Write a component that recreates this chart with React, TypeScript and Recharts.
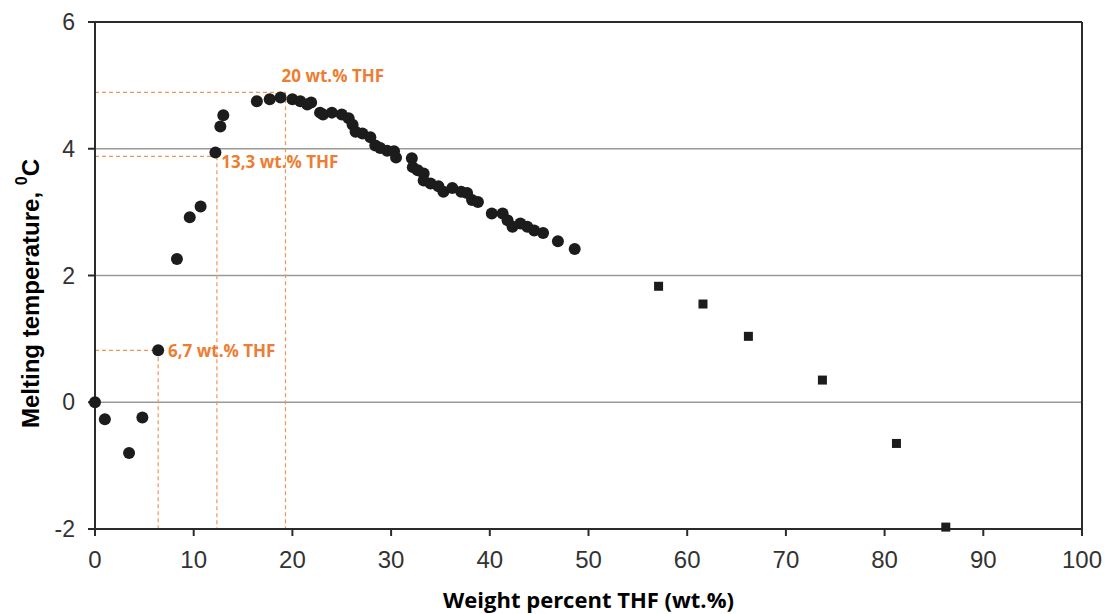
import React from 'react';
import {
  ScatterChart,
  Scatter,
  XAxis,
  YAxis,
  CartesianGrid,
  ReferenceLine,
} from 'recharts';

/* ---------- DATA ---------- */
// circles: measured melting points, low THF range
const circleX = [
  0, 1.0, 3.45, 4.8, 6.4, 8.3, 9.6, 10.7, 12.2, 12.7, 13.0,
  16.4, 17.7, 18.8, 20.0, 20.8, 21.5, 21.9, 22.8, 23.1, 24.0, 25.0,
  25.7, 26.1, 26.4, 27.1, 27.9, 28.4, 28.9, 29.6, 30.3, 30.5, 32.1,
  32.2, 32.7, 33.3, 33.3, 34.0, 34.8, 35.3, 36.2, 37.1, 37.7, 38.2,
  38.8, 40.2, 41.3, 41.8, 42.3, 43.1, 43.8, 44.5, 45.4, 46.9, 48.6,
];
const circleY = [
  0, -0.27, -0.8, -0.24, 0.82, 2.26, 2.92, 3.09, 3.94, 4.35, 4.53,
  4.75, 4.78, 4.81, 4.78, 4.75, 4.7, 4.73, 4.57, 4.54, 4.57, 4.54,
  4.48, 4.38, 4.27, 4.24, 4.18, 4.05, 4.01, 3.97, 3.96, 3.86, 3.85,
  3.71, 3.66, 3.61, 3.5, 3.45, 3.41, 3.32, 3.38, 3.32, 3.3, 3.19,
  3.16, 2.98, 2.98, 2.87, 2.77, 2.82, 2.77, 2.71, 2.67, 2.54, 2.42,
];

// squares: high THF range
const squareX = [57.1, 61.6, 66.2, 73.7, 81.2, 86.2];
const squareY = [1.83, 1.55, 1.04, 0.35, -0.65, -1.97];

// annotations (orange)
const markX = [19.3, 12.35, 6.4];
const markY = [4.89, 3.88, 0.82];
const noteText = ['20 wt.% THF', '13,3 wt.% THF', '6,7 wt.% THF'];
const noteX = [18.9, 12.8, 7.4];
const noteY = [5.16, 3.8, 0.82];

const xTicks = [0, 10, 20, 30, 40, 50, 60, 70, 80, 90, 100];
const yTicks = [-2, 0, 2, 4, 6];
const gridY = [0, 2, 4];

const circles = circleX.map((x, i) => ({ x, y: circleY[i] }));
const squares = squareX.map((x, i) => ({ x, y: squareY[i] }));
const notes = noteX.map((x, i) => ({ x, y: noteY[i], text: noteText[i] }));

const ORANGE = '#ED7D31';
const DASH = '#EE9658';
const AXIS = '#2b2b2b';

const YTitle = (props: any) => {
  const vb = props.viewBox || { x: 0, y: 22, width: 95, height: 507 };
  const cx = vb.x + 30;
  const cy = vb.y + vb.height / 2 + 18;
  return (
    <text
      x={cx}
      y={cy}
      transform={`rotate(-90, ${cx}, ${cy})`}
      textAnchor="middle"
      dominantBaseline="central"
      fontFamily="'Liberation Sans', Arial, sans-serif"
      fontWeight={700}
      fontSize={24}
      fill="#000"
    >
      Melting temperature,{' '}
      <tspan dy={-9} fontSize={16}>
        0
      </tspan>
      <tspan dy={9}>C</tspan>
    </text>
  );
};

const XTitle = (props: any) => {
  const vb = props.viewBox || { x: 95, y: 529, width: 987, height: 85 };
  return (
    <text
      x={vb.x + vb.width / 2}
      y={599}
      textAnchor="middle"
      dominantBaseline="central"
      fontFamily="'Open Sans', sans-serif"
      fontWeight={700}
      fontSize={22}
      fill="#000"
    >
      Weight percent THF (wt.%)
    </text>
  );
};

export default function App() {
  return (
    <div style={{ position: 'absolute', left: 0, top: 0, background: '#fff' }}>
      <ScatterChart
        width={1108}
        height={614}
        margin={{ top: 22, right: 26, bottom: 0, left: 0 }}
      >
        <CartesianGrid
          horizontal
          vertical={false}
          horizontalValues={gridY}
          stroke="#9a9a9a"
          strokeWidth={1.5}
        />
        <XAxis
          type="number"
          dataKey="x"
          domain={[0, 100]}
          ticks={xTicks}
          interval={0}
          height={85}
          stroke={AXIS}
          strokeWidth={2}
          tickSize={7}
          tickMargin={15}
          tick={{ fontSize: 24, fill: '#333', fontFamily: "'Liberation Sans', Arial, sans-serif" }}
          label={{ content: <XTitle /> }}
        />
        <YAxis
          type="number"
          dataKey="y"
          domain={[-2, 6]}
          ticks={yTicks}
          interval={0}
          width={95}
          stroke={AXIS}
          strokeWidth={2}
          tickSize={7}
          tickMargin={13}
          tick={{ fontSize: 23, fill: '#333', fontFamily: "'Liberation Sans', Arial, sans-serif" }}
          label={{ content: <YTitle /> }}
        />
        <ReferenceLine y={6} stroke={AXIS} strokeWidth={2} />
        <ReferenceLine x={100} stroke={AXIS} strokeWidth={2} />

        {markX.map((mx, i) => (
          <ReferenceLine
            key={`h${i}`}
            segment={[{ x: 0, y: markY[i] }, { x: mx, y: markY[i] }]}
            stroke={DASH}
            strokeWidth={1.2}
            strokeDasharray="4 3"
          />
        ))}
        {markX.map((mx, i) => (
          <ReferenceLine
            key={`v${i}`}
            segment={[{ x: mx, y: markY[i] }, { x: mx, y: -2 }]}
            stroke={DASH}
            strokeWidth={1.2}
            strokeDasharray="4 3"
          />
        ))}

        <Scatter
          data={circles}
          isAnimationActive={false}
          shape={(p: any) => <circle cx={p.cx} cy={p.cy} r={6} fill="#1c1c1c" />}
        />
        <Scatter
          data={squares}
          isAnimationActive={false}
          shape={(p: any) => (
            <rect x={p.cx - 4.5} y={p.cy - 4.5} width={9} height={9} fill="#1c1c1c" />
          )}
        />
        <Scatter
          data={notes}
          isAnimationActive={false}
          shape={(p: any) => (
            <text
              x={p.cx}
              y={p.cy}
              dominantBaseline="central"
              fontFamily="'Open Sans', sans-serif"
              fontWeight={700}
              fontSize={17}
              fill={ORANGE}
            >
              {p.payload.text}
            </text>
          )}
        />
      </ScatterChart>
    </div>
  );
}
